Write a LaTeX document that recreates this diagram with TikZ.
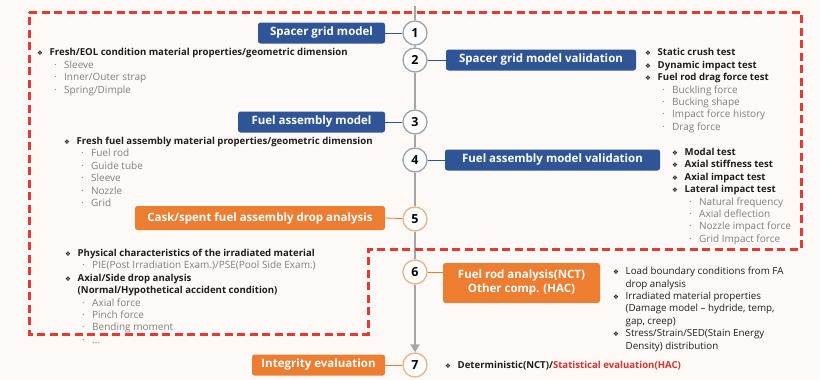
\documentclass[tikz,border=0pt]{standalone}
\usepackage{fontspec}
\setmainfont{Open Sans}
\newfontfamily\symfont{DejaVu Sans}
\usetikzlibrary{arrows.meta}
\definecolor{boxblue}{HTML}{2F5597}
\definecolor{boxorange}{HTML}{ED7D31}
\definecolor{ringgray}{HTML}{9AA3B0}
\definecolor{ringorange}{HTML}{E9B48C}
\definecolor{linegray}{HTML}{A6A6A6}
\definecolor{dashred}{HTML}{E53A32}
\definecolor{subgray}{HTML}{808080}
\definecolor{darktext}{HTML}{1E1E1E}
\definecolor{evalred}{HTML}{E0302A}
\definecolor{bgtint}{HTML}{FDF9F6}
\newcommand{\dia}{\makebox[12.5pt][l]{\symfont\fontsize{6.5}{6.5}\selectfont ❖}}
\newcommand{\grayitem}[1]{\hspace*{17pt}{\mdseries\fontsize{10}{12.4}\selectfont\color{subgray}\makebox[10pt][l]{·}#1}}
\begin{document}
\begin{tikzpicture}[x=1pt,y=-1pt,
    ring/.style={circle,draw=ringgray,line width=1.3pt,fill=white,minimum size=24pt,inner sep=0pt,font=\bfseries\fontsize{12.5}{12.5}\selectfont},
    ringo/.style={ring,draw=ringorange},
    bluebox/.style={fill=boxblue,rounded corners=2.5pt,text=white,font=\bfseries\fontsize{11.5}{14}\selectfont,minimum height=21pt,inner sep=0pt,align=center},
    orangebox/.style={bluebox,fill=boxorange},
    tie/.style={draw=boxblue,line width=0.8pt},
    tieo/.style={draw=boxorange,line width=0.8pt},
    notes/.style={anchor=north west,inner sep=0pt,align=left,text=darktext,font=\fontsize{9.8}{12.4}\selectfont},
    boldnotes/.style={notes,font=\bfseries\fontsize{9.6}{12.4}\selectfont},
    timeline/.style={draw=linegray,line width=2.8pt},
    frame/.style={draw=dashred,line width=3pt,dash pattern=on 8pt off 4.5pt}]
  \fill[bgtint] (0,0) rectangle (820,380);
  \useasboundingbox (0,0) rectangle (820,380);

  % steps
  \node[ring] (s1) at (415,33) {1};
  \node[ring] (s2) at (415,60) {2};
  \node[ring] (s3) at (415,122) {3};
  \node[ring] (s4) at (415,160) {4};
  \node[ringo] (s5) at (415,219) {5};
  \node[ringo] (s6) at (415,272) {6};
  \node[ringo] (s7) at (415,365) {7};
  \coordinate (top) at (415,6);
  \draw[timeline] (top) -- (s1);
  \draw[timeline] (s1) -- (s2);
  \draw[timeline] (s2) -- (s3);
  \draw[timeline] (s3) -- (s4);
  \draw[timeline] (s4) -- (s5);
  \draw[timeline] (s5) -- (s6);
  \draw[timeline,-{Triangle[width=9pt,length=8pt]}] (s6) -- (s7);

  % boxes
  \node[bluebox,minimum width=127pt] (sgmodel) at (321.5,33) {Spacer grid model};
  \node[bluebox,minimum width=190pt] (sgvalid) at (541,60) {Spacer grid model validation};
  \node[bluebox,minimum width=147pt] (famodel) at (311.5,122) {Fuel assembly model};
  \node[bluebox,minimum width=215pt] (favalid) at (552.5,160) {Fuel assembly model validation};
  \node[orangebox,minimum width=250pt,minimum height=24pt] (drop) at (260,218) {Cask/spent fuel assembly drop analysis};
  \node[orangebox,minimum width=157pt,minimum height=40pt] (rod) at (521.5,283) {Fuel rod analysis(NCT)\\Other comp. (HAC)};
  \node[orangebox,minimum width=133pt] (integ) at (318.5,365) {Integrity evaluation};
  \draw[tie] (sgmodel) -- (s1);
  \draw[tie] (s2) -- (sgvalid);
  \draw[tie] (famodel) -- (s3);
  \draw[tie] (s4) -- (favalid);
  \draw[tieo] (drop.east) -- (s5);
  \draw[tieo] (s6.east) -- (s6.east -| rod.west);
  \draw[tieo] (integ) -- (s7);

  % notes
  \node[boldnotes] (n1) at (37,48.5) {\dia Fresh/EOL condition material properties/geometric dimension\\
    \grayitem{Sleeve}\\ \grayitem{Inner/Outer strap}\\ \grayitem{Spring/Dimple}};
  \node[boldnotes] (n2) at (645,48.5) {\dia Static crush test\\ \dia Dynamic impact test\\ \dia Fuel rod drag force test\\
    \grayitem{Buckling force}\\ \grayitem{Bucking shape}\\ \grayitem{Impact force history}\\ \grayitem{Drag force}};
  \node[boldnotes] (n3) at (64,137) {\dia Fresh fuel assembly material properties/geometric dimension\\
    \grayitem{Fuel rod}\\ \grayitem{Guide tube}\\ \grayitem{Sleeve}\\ \grayitem{Nozzle}\\ \grayitem{Grid}};
  \node[boldnotes] (n4) at (672,148) {\dia Modal test\\ \dia Axial stiffness test\\ \dia Axial impact test\\ \dia Lateral impact test\\
    \grayitem{Natural frequency}\\ \grayitem{Axial deflection}\\ \grayitem{Nozzle impact force}\\ \grayitem{Grid Impact force}};
  \node[boldnotes] (n5) at (65,249) {\dia Physical characteristics of the irradiated material\\
    \grayitem{PIE(Post Irradiation Exam.)/PSE(Pool Side Exam.)}\\
    \dia Axial/Side drop analysis\\ \hspace*{12.5pt}(Normal/Hypothetical accident condition)\\
    \grayitem{Axial force}\\ \grayitem{Pinch force}\\ \grayitem{Bending moment}\\ \grayitem{...}};
  \node[notes] (n6) at (613,267) {\dia Load boundary conditions from FA\\ \hspace*{12.5pt}drop analysis\\
    \dia Irradiated material properties\\ \hspace*{12.5pt}(Damage model -- hydride, temp,\\ \hspace*{12.5pt}gap, creep)\\
    \dia Stress/Strain/SED(Stain Energy\\ \hspace*{12.5pt}Density) distribution};
  \node[boldnotes,anchor=west] (n7) at (445,366) {\dia Deterministic(NCT)/\textcolor{evalred}{Statistical evaluation(HAC)}};

  % dashed scope frame
  \draw[frame] (29,12) -- (801,12) -- (801,249) -- (368,249) -- (368,334) -- (29,334) -- cycle;
\end{tikzpicture}
\end{document}
